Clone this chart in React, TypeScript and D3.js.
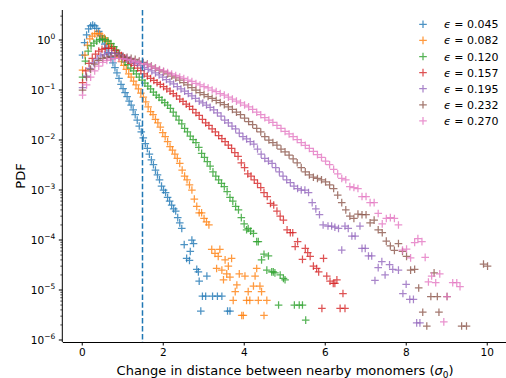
import { useEffect, useRef } from "react";
import * as d3 from "d3";

type Pt = [number, number];

// epsilon values shown in the legend, one per series
const epsLabels = ["0.045", "0.082", "0.120", "0.157", "0.195", "0.232", "0.270"];
const seriesColors = ["#1f77b4", "#ff7f0e", "#2ca02c", "#d62728", "#9467bd", "#8c564b", "#e377c2"];

// [change in distance (sigma0), PDF]
const eps045: Pt[] = [
    [0.02, 0.5], [0.07, 0.89], [0.12, 1.26], [0.17, 1.66], [0.22, 1.91], [0.27, 2.0], [0.32, 1.91], [0.37, 1.7],
    [0.42, 1.48], [0.47, 1.23], [0.52, 1.0], [0.57, 0.83], [0.62, 0.69], [0.67, 0.56], [0.72, 0.45], [0.77, 0.35],
    [0.82, 0.28], [0.87, 0.22], [0.92, 0.17], [0.97, 0.13], [1.02, 0.107], [1.07, 0.089], [1.12, 0.074], [1.17, 0.06],
    [1.22, 0.05], [1.27, 0.04], [1.32, 0.032], [1.37, 0.025], [1.42, 0.019], [1.47, 0.0145], [1.52, 0.011], [1.57, 8.5e-3],
    [1.62, 6.8e-3], [1.67, 5.2e-3], [1.72, 4.0e-3], [1.77, 3.2e-3], [1.82, 2.5e-3], [1.87, 2.0e-3], [1.92, 1.6e-3], [1.97, 1.2e-3],
    [2.02, 1.0e-3], [2.07, 8.9e-4], [2.12, 7.1e-4], [2.17, 6.0e-4], [2.22, 5.0e-4], [2.27, 4.2e-4], [2.32, 3.8e-4], [2.37, 2.8e-4],
    [2.42, 2.2e-4], [2.47, 1.7e-4], [2.53, 8.1e-5], [2.59, 4.3e-5], [2.66, 3.9e-5], [2.68, 5.9e-5], [2.72, 1.0e-4], [2.76, 8.5e-5],
    [2.84, 2.6e-5], [2.88, 2.3e-5], [2.9, 1.5e-5], [2.94, 3.8e-6], [2.98, 7.5e-6], [3.06, 7.5e-6], [3.09, 1.9e-5], [3.23, 7.5e-6],
    [3.35, 7.5e-6], [3.46, 7.5e-6], [3.6, 3.8e-6], [3.66, 3.8e-6],
];

const eps082: Pt[] = [
    [0.02, 0.25], [0.08, 0.5], [0.14, 0.79], [0.2, 1.05], [0.26, 1.2], [0.32, 1.32], [0.38, 1.35], [0.44, 1.32],
    [0.5, 1.2], [0.56, 1.1], [0.62, 0.95], [0.68, 0.85], [0.74, 0.74], [0.8, 0.63], [0.86, 0.54], [0.92, 0.45],
    [0.98, 0.37], [1.04, 0.31], [1.1, 0.26], [1.16, 0.21], [1.22, 0.18], [1.28, 0.15], [1.34, 0.126], [1.4, 0.105],
    [1.46, 0.087], [1.52, 0.072], [1.58, 0.058], [1.64, 0.046], [1.7, 0.037], [1.76, 0.032], [1.82, 0.026], [1.88, 0.022],
    [1.94, 0.018], [2.0, 0.014], [2.06, 0.0117], [2.12, 9.3e-3], [2.18, 7.4e-3], [2.24, 6.3e-3], [2.3, 5.2e-3], [2.36, 4.3e-3],
    [2.42, 3.4e-3], [2.48, 2.5e-3], [2.54, 1.9e-3], [2.6, 1.6e-3], [2.66, 1.26e-3], [2.72, 1.0e-3], [2.78, 6.6e-4], [2.84, 4.7e-4],
    [2.9, 3.5e-4], [2.96, 3.5e-4], [3.02, 2.7e-4], [3.08, 2.3e-4], [3.14, 2.0e-4], [3.21, 6.5e-5], [3.29, 5.4e-5], [3.33, 2.7e-5],
    [3.37, 4.7e-5], [3.41, 6.5e-5], [3.46, 2.5e-5], [3.5, 1.6e-5], [3.54, 4.0e-5], [3.58, 2.1e-5], [3.62, 3.0e-5], [3.66, 1.8e-5],
    [3.7, 4.3e-5], [3.74, 6.2e-6], [3.79, 9.3e-6], [3.83, 1.26e-5], [3.89, 2.1e-5], [3.95, 3.1e-6], [3.99, 3.1e-6], [4.03, 1.9e-5],
    [4.07, 6.2e-6], [4.11, 9.3e-6], [4.15, 6.2e-6], [4.24, 1.2e-5], [4.28, 1.9e-5], [4.32, 2.7e-5], [4.36, 6.2e-6], [4.4, 1.2e-5],
    [4.44, 9.3e-6], [4.5, 3.1e-6], [4.57, 6.2e-6],
];

const eps120: Pt[] = [
    [0.02, 0.18], [0.09, 0.38], [0.16, 0.6], [0.23, 0.76], [0.3, 0.87], [0.37, 0.95], [0.44, 1.02], [0.51, 1.05],
    [0.58, 1.02], [0.65, 0.95], [0.72, 0.85], [0.79, 0.74], [0.86, 0.63], [0.93, 0.52], [1.0, 0.44], [1.07, 0.36],
    [1.14, 0.32], [1.21, 0.275], [1.28, 0.24], [1.35, 0.21], [1.42, 0.18], [1.49, 0.158], [1.56, 0.138], [1.63, 0.12],
    [1.7, 0.105], [1.77, 0.091], [1.84, 0.079], [1.91, 0.071], [1.98, 0.063], [2.05, 0.056], [2.12, 0.05], [2.19, 0.043],
    [2.26, 0.036], [2.33, 0.03], [2.4, 0.025], [2.47, 0.021], [2.54, 0.017], [2.61, 0.0145], [2.68, 0.012], [2.75, 0.0102],
    [2.82, 8.9e-3], [2.89, 7.1e-3], [2.96, 5.4e-3], [3.03, 4.5e-3], [3.1, 3.7e-3], [3.17, 3.0e-3], [3.24, 2.3e-3], [3.31, 1.9e-3],
    [3.38, 1.6e-3], [3.45, 1.35e-3], [3.52, 1.17e-3], [3.59, 9.3e-4], [3.66, 7.1e-4], [3.73, 6.0e-4], [3.8, 4.7e-4], [3.87, 4.0e-4],
    [3.94, 2.8e-4], [4.01, 2.1e-4], [4.07, 1.6e-4], [4.11, 1.7e-4], [4.17, 1.5e-4], [4.24, 1.35e-4], [4.32, 9.3e-5], [4.36, 9.3e-5],
    [4.44, 4.0e-5], [4.5, 5.2e-5], [4.57, 2.5e-5], [4.61, 4.8e-5], [4.69, 2.3e-5], [4.73, 2.3e-5], [4.77, 2.2e-5], [4.86, 5.0e-6],
    [4.9, 2.0e-5], [4.98, 1.7e-5], [5.02, 1.6e-5], [5.25, 5.0e-6], [5.37, 5.0e-6], [5.45, 5.0e-6], [5.53, 2.5e-6],
];

const eps157: Pt[] = [
    [0.02, 0.14], [0.1, 0.24], [0.18, 0.34], [0.26, 0.43], [0.34, 0.52], [0.42, 0.6], [0.5, 0.65], [0.58, 0.68],
    [0.66, 0.69], [0.74, 0.68], [0.82, 0.62], [0.9, 0.55], [0.98, 0.49], [1.06, 0.44], [1.14, 0.39], [1.22, 0.34],
    [1.3, 0.31], [1.38, 0.275], [1.46, 0.245], [1.54, 0.21], [1.62, 0.19], [1.7, 0.17], [1.78, 0.155], [1.86, 0.14],
    [1.94, 0.129], [2.02, 0.117], [2.1, 0.105], [2.18, 0.095], [2.26, 0.085], [2.34, 0.076], [2.42, 0.066], [2.5, 0.059],
    [2.58, 0.052], [2.66, 0.047], [2.74, 0.041], [2.82, 0.035], [2.9, 0.031], [2.98, 0.026], [3.06, 0.022], [3.14, 0.0195],
    [3.22, 0.0166], [3.3, 0.0145], [3.38, 0.0123], [3.46, 0.0107], [3.54, 9.3e-3], [3.62, 7.9e-3], [3.7, 6.8e-3], [3.78, 5.6e-3],
    [3.86, 4.7e-3], [3.94, 3.5e-3], [4.02, 2.8e-3], [4.1, 2.1e-3], [4.18, 1.9e-3], [4.26, 1.6e-3], [4.34, 1.35e-3], [4.42, 1.12e-3],
    [4.5, 8.9e-4], [4.58, 7.4e-4], [4.66, 5.4e-4], [4.74, 5.0e-4], [4.82, 3.8e-4], [4.9, 3.0e-4], [4.98, 2.5e-4], [5.07, 1.6e-4],
    [5.15, 1.4e-4], [5.21, 1.4e-4], [5.27, 7.4e-5], [5.33, 9.3e-5], [5.45, 4.1e-5], [5.52, 6.8e-5], [5.58, 5.6e-5], [5.64, 4.7e-5],
    [5.72, 3.0e-5], [5.8, 2.7e-5], [5.85, 2.3e-5], [5.93, 4.3e-6], [5.97, 4.3e-5], [6.05, 1.9e-5], [6.13, 1.5e-5], [6.21, 1.35e-5],
    [6.25, 1.35e-5], [6.3, 1.6e-5], [6.38, 4.3e-6], [6.45, 8.5e-6], [6.5, 4.3e-6],
];

const eps195: Pt[] = [
    [0.02, 0.112], [0.11, 0.19], [0.2, 0.27], [0.29, 0.35], [0.38, 0.42], [0.47, 0.48], [0.56, 0.51], [0.65, 0.54],
    [0.74, 0.55], [0.83, 0.54], [0.92, 0.5], [1.01, 0.47], [1.1, 0.43], [1.19, 0.4], [1.28, 0.36], [1.37, 0.34],
    [1.46, 0.31], [1.55, 0.28], [1.64, 0.26], [1.73, 0.24], [1.82, 0.22], [1.91, 0.2], [2.0, 0.18], [2.09, 0.162],
    [2.18, 0.145], [2.27, 0.132], [2.36, 0.117], [2.45, 0.105], [2.54, 0.095], [2.63, 0.085], [2.72, 0.076], [2.81, 0.068],
    [2.9, 0.06], [2.99, 0.055], [3.08, 0.05], [3.17, 0.045], [3.26, 0.04], [3.35, 0.035], [3.44, 0.03], [3.53, 0.025],
    [3.62, 0.022], [3.71, 0.019], [3.8, 0.0166], [3.89, 0.0138], [3.98, 0.0117], [4.07, 0.0105], [4.16, 9.3e-3], [4.25, 8.3e-3],
    [4.34, 6.6e-3], [4.43, 5.2e-3], [4.52, 4.3e-3], [4.61, 3.8e-3], [4.7, 3.4e-3], [4.79, 2.8e-3], [4.88, 2.3e-3], [4.97, 1.9e-3],
    [5.06, 1.6e-3], [5.15, 1.4e-3], [5.24, 1.2e-3], [5.33, 1.07e-3], [5.42, 1.0e-3], [5.51, 1.0e-3], [5.6, 8.9e-4], [5.69, 5.6e-4],
    [5.78, 4.2e-4], [5.87, 3.2e-4], [5.96, 2.0e-4], [6.08, 1.9e-4], [6.17, 1.9e-4], [6.25, 1.8e-4], [6.34, 1.7e-4], [6.42, 6.3e-5],
    [6.5, 1.9e-4], [6.58, 1.7e-4], [6.67, 1.2e-4], [6.75, 1.2e-4], [6.87, 1.9e-4], [6.92, 6.8e-5], [7.0, 6.8e-5], [7.08, 4.8e-5],
    [7.16, 4.8e-5], [7.24, 1.55e-5], [7.32, 2.8e-5], [7.41, 3.7e-5], [7.49, 2.0e-5], [7.6, 3.2e-5], [7.68, 2.6e-5], [7.82, 2.5e-5],
    [7.93, 8.5e-6], [8.01, 1.3e-5], [8.1, 6.5e-6], [8.19, 6.5e-6], [8.27, 2.2e-6], [8.35, 2.2e-6],
];

const eps232: Pt[] = [
    [0.02, 0.1], [0.12, 0.18], [0.22, 0.26], [0.32, 0.33], [0.42, 0.39], [0.52, 0.43], [0.62, 0.45], [0.72, 0.47],
    [0.82, 0.48], [0.92, 0.48], [1.02, 0.47], [1.12, 0.45], [1.22, 0.43], [1.32, 0.41], [1.42, 0.38], [1.52, 0.355],
    [1.62, 0.33], [1.72, 0.3], [1.82, 0.275], [1.92, 0.25], [2.02, 0.23], [2.12, 0.21], [2.22, 0.19], [2.32, 0.174],
    [2.42, 0.158], [2.52, 0.141], [2.62, 0.126], [2.72, 0.112], [2.82, 0.1], [2.92, 0.089], [3.02, 0.081], [3.12, 0.074],
    [3.22, 0.068], [3.32, 0.062], [3.42, 0.056], [3.52, 0.051], [3.62, 0.046], [3.72, 0.041], [3.82, 0.036], [3.92, 0.032],
    [4.02, 0.0275], [4.12, 0.0234], [4.22, 0.0204], [4.32, 0.017], [4.42, 0.0145], [4.52, 0.0117], [4.62, 0.01], [4.72, 8.9e-3],
    [4.82, 7.9e-3], [4.92, 6.6e-3], [5.02, 5.8e-3], [5.12, 5.0e-3], [5.22, 4.2e-3], [5.32, 3.5e-3], [5.42, 2.8e-3], [5.52, 2.3e-3],
    [5.62, 2.0e-3], [5.72, 1.8e-3], [5.82, 1.7e-3], [5.92, 1.6e-3], [6.02, 1.45e-3], [6.12, 1.26e-3], [6.22, 1.07e-3], [6.32, 7.9e-4],
    [6.42, 5.6e-4], [6.52, 4.0e-4], [6.62, 3.0e-4], [6.72, 2.7e-4], [6.82, 3.3e-4], [6.92, 3.2e-4], [7.02, 3.2e-4], [7.12, 2.2e-4],
    [7.22, 2.5e-4], [7.32, 1.6e-4], [7.42, 1.4e-4], [7.52, 9.5e-5], [7.62, 7.6e-5], [7.72, 6.2e-5], [7.82, 8.5e-5], [7.92, 5.9e-5],
    [8.02, 4.7e-5], [8.12, 2.5e-5], [8.22, 2.6e-5], [8.32, 1.1e-5], [8.42, 3.6e-6], [8.52, 1.9e-6], [8.62, 7.4e-6], [8.7, 2.2e-5],
    [8.78, 7.4e-6], [8.82, 3.6e-6], [9.02, 7.4e-6], [9.38, 1.9e-6], [9.5, 1.9e-6], [9.92, 3.3e-5], [10.02, 3.0e-5],
];

const eps270: Pt[] = [
    [0.02, 0.079], [0.12, 0.126], [0.22, 0.18], [0.32, 0.24], [0.42, 0.3], [0.52, 0.355], [0.62, 0.39], [0.72, 0.42],
    [0.82, 0.43], [0.92, 0.43], [1.02, 0.42], [1.12, 0.41], [1.22, 0.39], [1.32, 0.37], [1.42, 0.355], [1.52, 0.34],
    [1.62, 0.32], [1.72, 0.295], [1.82, 0.275], [1.92, 0.257], [2.02, 0.24], [2.12, 0.224], [2.22, 0.209], [2.32, 0.195],
    [2.42, 0.182], [2.52, 0.17], [2.62, 0.158], [2.72, 0.148], [2.82, 0.135], [2.92, 0.126], [3.02, 0.117], [3.12, 0.11],
    [3.22, 0.1], [3.32, 0.093], [3.42, 0.085], [3.52, 0.079], [3.62, 0.072], [3.72, 0.066], [3.82, 0.06], [3.92, 0.055],
    [4.02, 0.05], [4.12, 0.046], [4.22, 0.041], [4.32, 0.036], [4.42, 0.032], [4.52, 0.028], [4.62, 0.025], [4.72, 0.0224],
    [4.82, 0.0195], [4.92, 0.017], [5.02, 0.0148], [5.12, 0.0132], [5.22, 0.0117], [5.32, 0.0102], [5.42, 8.9e-3], [5.52, 7.8e-3],
    [5.62, 6.8e-3], [5.72, 5.9e-3], [5.82, 5.1e-3], [5.92, 4.5e-3], [6.02, 3.8e-3], [6.12, 3.2e-3], [6.22, 2.6e-3], [6.32, 2.1e-3],
    [6.42, 1.7e-3], [6.52, 1.6e-3], [6.62, 1.17e-3], [6.72, 1.12e-3], [6.82, 1.07e-3], [6.92, 7.4e-4], [7.02, 7.4e-4], [7.12, 5.6e-4],
    [7.22, 5.6e-4], [7.32, 3.4e-4], [7.42, 2.1e-4], [7.52, 2.7e-4], [7.62, 2.8e-4], [7.72, 2.7e-4], [7.82, 2.0e-4], [7.92, 6.3e-5],
    [8.02, 6.6e-5], [8.12, 4.4e-5], [8.22, 8.9e-5], [8.3, 1.07e-4], [8.4, 9.3e-5], [8.48, 4.5e-5], [8.56, 1.45e-5], [8.64, 1.9e-5],
    [8.74, 1.4e-5], [8.84, 2.1e-5], [8.94, 2.3e-6], [9.02, 7.4e-6], [9.16, 1.4e-5], [9.26, 1.4e-5], [9.34, 1.17e-5],
];

const allSeries = [eps045, eps082, eps120, eps157, eps195, eps232, eps270];

const xTicks = [0, 2, 4, 6, 8, 10];
const xTickLabels = ["0", "2", "4", "6", "8", "10"];
const yTicks = [1e-6, 1e-5, 1e-4, 1e-3, 1e-2, 1e-1, 1];
const yTickExps = ["\u22126", "\u22125", "\u22124", "\u22123", "\u22122", "\u22121", "0"];
const cutoffX = 1.5;

const FONT = "DejaVu Sans";

function PdfChart() {
    const svgRef = useRef<SVGSVGElement>(null);

    useEffect(() => {
        const svgEl = svgRef.current;
        if (!svgEl) return;
        const width = 506;
        const height = 378;
        const left = 62.3;
        const top = 10;
        const bottom = 342;

        const svg = d3.select(svgEl);
        svg.selectAll("*").remove();
        svg.attr("width", width).attr("height", height).style("background", "#fff");

        const x = d3.scaleLinear().domain([-0.48, 10.52]).range([left, 507.8]);
        const y = d3.scaleLog().domain([Math.pow(10, -6.04), Math.pow(10, 0.6)]).range([bottom, top]);

        // data markers, drawn one by one so overlapping '+' darken like matplotlib alpha
        const half = 3.8;
        allSeries.forEach((pts, i) => {
            svg.append("g")
                .selectAll("path")
                .data(pts)
                .join("path")
                .attr("d", d => {
                    const px = x(d[0]);
                    const py = y(d[1]);
                    return `M${px - half},${py}H${px + half}M${px},${py - half}V${py + half}`;
                })
                .attr("stroke", seriesColors[i])
                .attr("stroke-width", 1.25)
                .attr("stroke-opacity", 0.8)
                .attr("fill", "none");
        });

        // vertical cutoff line
        svg.append("line")
            .attr("x1", x(cutoffX))
            .attr("x2", x(cutoffX))
            .attr("y1", top)
            .attr("y2", bottom)
            .attr("stroke", "#1f77b4")
            .attr("stroke-width", 1.5)
            .attr("stroke-dasharray", "5.5,2.4");

        // x axis
        const xAxis = svg.append("g")
            .attr("transform", `translate(0,${bottom})`)
            .call(d3.axisBottom(x).tickValues(xTicks).tickSize(3.5).tickSizeOuter(0).tickPadding(3.5)
                .tickFormat((_, i) => xTickLabels[i]));
        xAxis.selectAll("text").attr("font-family", FONT).attr("font-size", 10.5).attr("fill", "#000");
        xAxis.select(".domain").attr("stroke", "#000").attr("stroke-width", 1);

        // y axis: minor ticks, major ticks, spine
        const minor: number[] = [];
        for (let k = -7; k <= 0; k++) {
            for (let m = 2; m <= 9; m++) {
                const v = m * Math.pow(10, k);
                if (v >= y.domain()[0] && v <= y.domain()[1]) minor.push(v);
            }
        }
        const yAxis = svg.append("g").attr("transform", `translate(${left},0)`);
        yAxis.selectAll("line.minor")
            .data(minor)
            .join("line")
            .attr("class", "minor")
            .attr("x1", -2).attr("x2", 0)
            .attr("y1", d => y(d)).attr("y2", d => y(d))
            .attr("stroke", "#000").attr("stroke-width", 0.7);
        yAxis.selectAll("line.major")
            .data(yTicks)
            .join("line")
            .attr("class", "major")
            .attr("x1", -3.5).attr("x2", 0)
            .attr("y1", d => y(d)).attr("y2", d => y(d))
            .attr("stroke", "#000").attr("stroke-width", 1);
        yAxis.append("line")
            .attr("x1", 0).attr("x2", 0)
            .attr("y1", top).attr("y2", bottom)
            .attr("stroke", "#000").attr("stroke-width", 1);

        const yLabels = yAxis.selectAll("text.ylab")
            .data(yTicks)
            .join("text")
            .attr("class", "ylab")
            .attr("x", -7)
            .attr("y", d => y(d) + 3.8)
            .attr("text-anchor", "end")
            .attr("font-family", FONT)
            .attr("font-size", 10.5)
            .attr("fill", "#000");
        yLabels.append("tspan").text("10");
        yLabels.append("tspan")
            .attr("dy", -4.5)
            .attr("font-size", 7.5)
            .text((_, i) => yTickExps[i]);

        // axis titles
        const xLabel = svg.append("text")
            .attr("x", (left + 507.8) / 2)
            .attr("y", 375)
            .attr("text-anchor", "middle")
            .attr("font-family", FONT)
            .attr("font-size", 13)
            .attr("fill", "#000");
        xLabel.append("tspan").text("Change in distance between nearby monomers (");
        xLabel.append("tspan").attr("font-style", "italic").text("\u03c3");
        xLabel.append("tspan").attr("font-size", 9).attr("dy", 2.5).text("0");
        xLabel.append("tspan").attr("dy", -2.5).text(")");

        svg.append("text")
            .attr("transform", `translate(25,${(top + bottom) / 2}) rotate(-90)`)
            .attr("text-anchor", "middle")
            .attr("font-family", FONT)
            .attr("font-size", 13)
            .attr("fill", "#000")
            .text("PDF");

        // legend
        const legend = svg.append("g");
        epsLabels.forEach((lab, i) => {
            const cy = 24.3 + 16.1 * i;
            const mx = 423;
            legend.append("path")
                .attr("d", `M${mx - half},${cy}H${mx + half}M${mx},${cy - half}V${cy + half}`)
                .attr("stroke", seriesColors[i])
                .attr("stroke-width", 1.25)
                .attr("stroke-opacity", 0.8);
            const t = legend.append("text")
                .attr("x", 444)
                .attr("y", cy + 4)
                .attr("font-family", FONT)
                .attr("font-size", 11)
                .attr("fill", "#000");
            t.append("tspan").attr("font-style", "italic").text("\u03f5");
            t.append("tspan").text(` = ${lab}`);
        });
    }, []);

    return <svg ref={svgRef} />;
}

export default function App() {
    return (
        <div style={{ position: "absolute", left: 0, top: 0, width: 506, height: 378, background: "#fff" }}>
            <PdfChart />
        </div>
    );
}
